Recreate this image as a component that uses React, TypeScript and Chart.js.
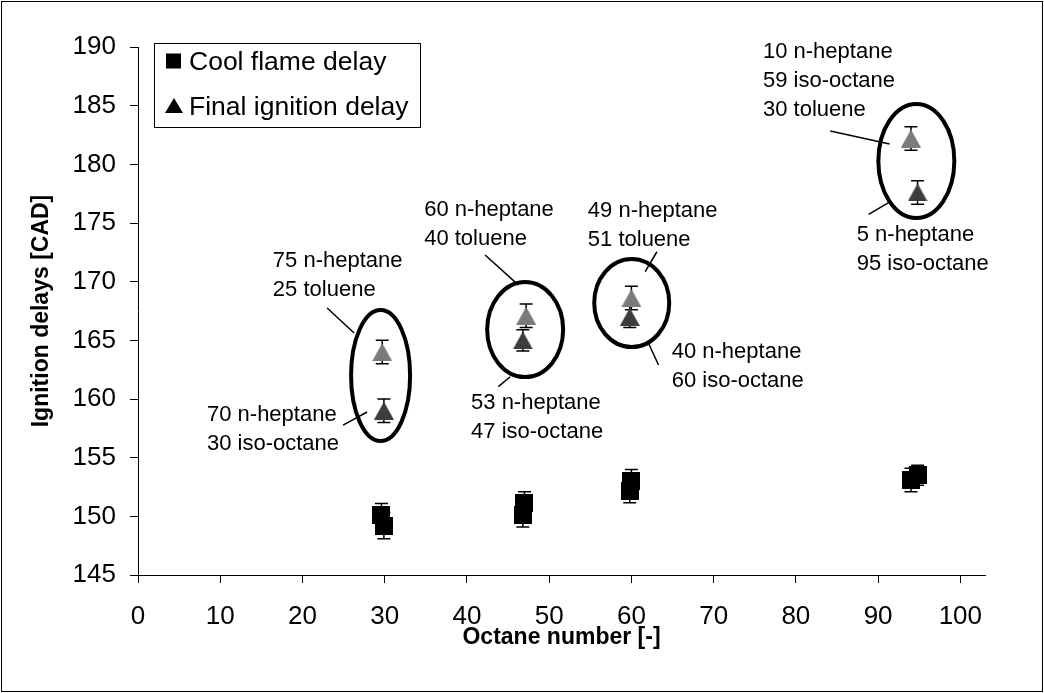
import React, { useEffect, useRef } from 'react';
import { Chart, registerables } from 'chart.js';

Chart.register(...registerables);

const FONT = "'Liberation Sans', Arial, Helvetica, sans-serif";

// Cool flame delays [CAD] against octane number
const coolOctane = [29.6, 29.9, 47.0, 46.8, 60.0, 59.8, 94.0, 94.8];
const coolDelay = [150.1, 149.2, 151.1, 150.1, 153.0, 152.2, 153.1, 153.5];
const coolError = [1.0, 1.1, 1.0, 1.0, 1.0, 1.05, 1.0, 0.85];

// Final ignition delays [CAD]; 'tol' = toluene blend, 'prf' = n-heptane/iso-octane
const finalOctane = [29.7, 29.9, 47.2, 46.8, 60.0, 59.8, 94.0, 94.8];
const finalDelay = [164.0, 159.0, 167.1, 165.0, 168.6, 167.0, 182.2, 177.6];
const finalError = [1.0, 1.0, 1.0, 0.9, 1.0, 0.9, 1.0, 1.0];
const finalBlend = ['tol', 'prf', 'tol', 'prf', 'tol', 'prf', 'tol', 'prf'];

const seriesLabels = ['Cool flame delay', 'Final ignition delay'];
const xTickValues = [0, 10, 20, 30, 40, 50, 60, 70, 80, 90, 100];

// Blend compositions written next to the points
const blendText = [
  ['75 n-heptane', '25 toluene'],
  ['70 n-heptane', '30 iso-octane'],
  ['60 n-heptane', '40 toluene'],
  ['53 n-heptane', '47 iso-octane'],
  ['49 n-heptane', '51 toluene'],
  ['40 n-heptane', '60 iso-octane'],
  ['10 n-heptane', '59 iso-octane', '30 toluene'],
  ['5 n-heptane', '95 iso-octane'],
];
// Text anchor (left edge, first line) in axis units
const blendTextAt = [
  [16.4, 171.9], [8.39, 158.8], [34.8, 176.3], [40.5, 159.8],
  [54.7, 176.2], [64.9, 164.2], [76.0, 189.75], [87.4, 174.15],
];
// Leader lines, in axis units: [x1, y1, x2, y2]
const leaders = [
  [23.0, 167.76, 26.28, 165.63],
  [24.94, 157.78, 27.86, 158.89],
  [42.21, 172.27, 46.27, 169.71],
  [43.83, 161.05, 45.26, 161.9],
  [63.1, 172.55, 61.68, 170.85],
  [63.3, 162.9, 62.08, 164.75],
  [84.18, 182.84, 91.4, 181.73],
  [88.84, 175.74, 91.28, 176.73],
];
// Rings around each pair of blends: [cx, cy, rx, ry] in axis units
const rings = [
  [29.5, 162.0, 3.59, 5.58],
  [47.08, 165.92, 4.62, 4.05],
  [60.04, 168.18, 4.56, 3.75],
  [94.65, 180.28, 4.62, 4.86],
];

const blendColor: Record<string, string> = { tol: '#7a7a7a', prf: '#3d3d3d' };

function markerCanvas(kind: 'square' | 'triangle', color: string, w: number, h: number) {
  const c = document.createElement('canvas');
  c.width = w;
  c.height = h;
  const g = c.getContext('2d')!;
  g.fillStyle = color;
  if (kind === 'square') {
    g.fillRect(0, 0, w, h);
  } else {
    g.beginPath();
    g.moveTo(w / 2, 0);
    g.lineTo(w, h);
    g.lineTo(0, h);
    g.closePath();
    g.fill();
  }
  return c;
}

export default function App() {
  const ref = useRef<HTMLCanvasElement | null>(null);

  useEffect(() => {
    document.body.style.margin = '0';
    const canvas = ref.current;
    if (!canvas) return;

    const square = markerCanvas('square', '#000', 18, 18);
    const triangles: Record<string, HTMLCanvasElement> = {
      tol: markerCanvas('triangle', blendColor.tol, 20, 18),
      prf: markerCanvas('triangle', blendColor.prf, 20, 18),
    };
    const errorSets = [coolError, finalError];

    const errorBars = {
      id: 'errorBars',
      beforeDatasetsDraw(chart: any) {
        const { ctx } = chart;
        const y = chart.scales.y;
        ctx.save();
        ctx.strokeStyle = '#000';
        ctx.lineWidth = 1.5;
        chart.data.datasets.forEach((ds: any, di: number) => {
          const meta = chart.getDatasetMeta(di);
          meta.data.forEach((pt: any, i: number) => {
            const v = ds.data[i].y;
            const e = errorSets[di][i];
            const top = y.getPixelForValue(v + e);
            const bot = y.getPixelForValue(v - e);
            const px = pt.x;
            ctx.beginPath();
            ctx.moveTo(px, top);
            ctx.lineTo(px, bot);
            ctx.moveTo(px - 6.5, top);
            ctx.lineTo(px + 6.5, top);
            ctx.moveTo(px - 6.5, bot);
            ctx.lineTo(px + 6.5, bot);
            ctx.stroke();
          });
        });
        ctx.restore();
      },
    };

    const notes = {
      id: 'notes',
      afterDatasetsDraw(chart: any) {
        const { ctx } = chart;
        const x = chart.scales.x;
        const y = chart.scales.y;
        ctx.save();
        // rings
        ctx.strokeStyle = '#000';
        ctx.lineWidth = 4;
        rings.forEach(([cx, cy, rx, ry]) => {
          const px = x.getPixelForValue(cx);
          const py = y.getPixelForValue(cy);
          const prx = x.getPixelForValue(cx + rx) - px;
          const pry = py - y.getPixelForValue(cy + ry);
          ctx.beginPath();
          ctx.ellipse(px, py, prx, pry, 0, 0, Math.PI * 2);
          ctx.stroke();
        });
        // leaders
        ctx.lineWidth = 1.5;
        leaders.forEach(([x1, y1, x2, y2]) => {
          ctx.beginPath();
          ctx.moveTo(x.getPixelForValue(x1), y.getPixelForValue(y1));
          ctx.lineTo(x.getPixelForValue(x2), y.getPixelForValue(y2));
          ctx.stroke();
        });
        // text
        const size = 22;
        ctx.font = `${size}px ${FONT}`;
        ctx.fillStyle = '#000';
        ctx.textAlign = 'left';
        ctx.textBaseline = 'alphabetic';
        blendText.forEach((lines, k) => {
          const px = x.getPixelForValue(blendTextAt[k][0]);
          const py = y.getPixelForValue(blendTextAt[k][1]);
          lines.forEach((t, j) => {
            ctx.fillText(t, px, py + j * 29 + size * 0.358);
          });
        });
        ctx.restore();
      },
      afterDraw(chart: any) {
        const { ctx, width, height } = chart;
        ctx.save();
        // legend box
        const lx = 154, ly = 43, lw = 266, lh = 84;
        ctx.fillStyle = '#fff';
        ctx.fillRect(lx, ly, lw, lh);
        ctx.strokeStyle = '#000';
        ctx.lineWidth = 1;
        ctx.strokeRect(lx + 0.5, ly + 0.5, lw, lh);
        ctx.fillStyle = '#000';
        const rows = [61, 106];
        ctx.fillRect(166, rows[0] - 7.5, 15, 15);
        ctx.beginPath();
        ctx.moveTo(174, rows[1] - 8);
        ctx.lineTo(183, rows[1] + 7);
        ctx.lineTo(165, rows[1] + 7);
        ctx.closePath();
        ctx.fill();
        const size = 26.5;
        ctx.font = `${size}px ${FONT}`;
        ctx.textBaseline = 'alphabetic';
        seriesLabels.forEach((t, i) => ctx.fillText(t, 189, rows[i] + size * 0.358));
        // outer frame
        ctx.strokeStyle = '#000';
        ctx.lineWidth = 1;
        ctx.strokeRect(1.5, 1.5, width - 3, height - 3);
        ctx.restore();
      },
    };

    const axisCommon = {
      grid: { display: true, drawOnChartArea: false, drawTicks: true, tickLength: 8, color: '#000', lineWidth: 1 },
      border: { display: true, color: '#000', width: 1 },
    };

    const chart = new Chart(canvas, {
      type: 'scatter',
      data: {
        datasets: [
          {
            label: seriesLabels[0],
            data: coolOctane.map((v, i) => ({ x: v, y: coolDelay[i] })),
            pointStyle: square as any,
            pointRadius: 10,
            backgroundColor: '#000',
            borderColor: '#000',
          },
          {
            label: seriesLabels[1],
            data: finalOctane.map((v, i) => ({ x: v, y: finalDelay[i] })),
            pointStyle: ((c: any) => triangles[finalBlend[c.dataIndex]]) as any,
            pointRadius: 10,
            backgroundColor: '#000',
            borderColor: '#000',
          },
        ],
      },
      options: {
        animation: false,
        responsive: false,
        devicePixelRatio: 1,
        layout: { padding: { top: 47, right: 59, bottom: 0, left: 0 } },
        plugins: { legend: { display: false }, tooltip: { enabled: false } },
        scales: {
          x: {
            type: 'linear',
            min: 0,
            max: 103,
            ...axisCommon,
            afterBuildTicks: (s: any) => {
              s.ticks = xTickValues.map((v) => ({ value: v }));
            },
            afterFit: (s: any) => {
              s.height = 118;
            },
            ticks: { color: '#000', padding: 18, font: { family: FONT, size: 26 }, maxRotation: 0 },
            title: {
              display: true,
              text: 'Octane number [-]',
              color: '#000',
              font: { family: FONT, size: 23, weight: 'bold' },
              padding: { top: 0, bottom: 42 },
            },
          },
          y: {
            type: 'linear',
            min: 145,
            max: 190,
            ...axisCommon,
            afterFit: (s: any) => {
              s.width = 138;
            },
            ticks: { color: '#000', stepSize: 5, padding: 14, font: { family: FONT, size: 26 } },
            title: {
              display: true,
              text: 'Ignition delays [CAD]',
              color: '#000',
              font: { family: FONT, size: 23, weight: 'bold' },
              padding: { top: 28, bottom: 0 },
            },
          },
        },
      } as any,
      plugins: [errorBars, notes],
    });

    return () => chart.destroy();
  }, []);

  return (
    <div style={{ width: 1044, height: 693, background: '#fff' }}>
      <canvas ref={ref} width={1044} height={693} style={{ display: 'block' }} />
    </div>
  );
}
